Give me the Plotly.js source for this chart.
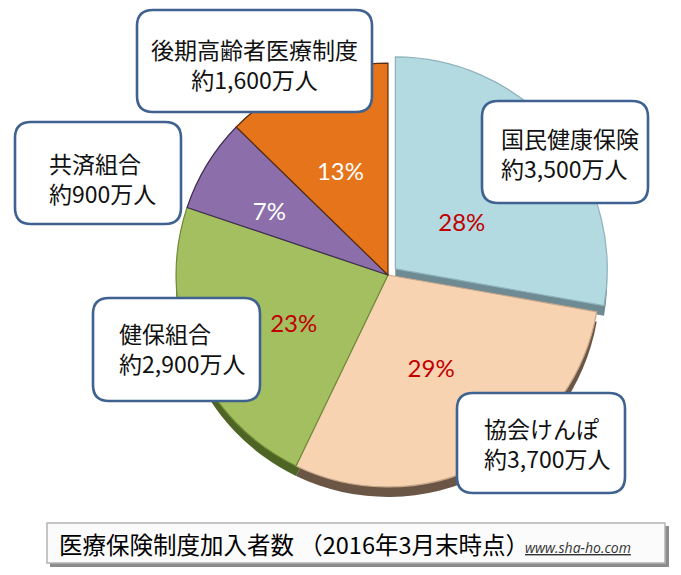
<!DOCTYPE html>
<html>
<head>
<meta charset="utf-8">
<script src="https://cdn.plot.ly/plotly-3.0.1.min.js"></script>
<style>html,body{margin:0;padding:0;background:#fff;}#chart{width:681px;height:575px;}</style>
</head>
<body>
<div id="chart"></div>
<script>
// ---- data ----
const categories = ['国民健康保険', '協会けんぽ', '健保組合', '共済組合', '後期高齢者医療制度'];
const members = [3500, 3700, 2900, 900, 1600];        // 万人
const memberLabels = ['約3,500万人', '約3,700万人', '約2,900万人', '約900万人', '約1,600万人'];
const chartTitle = '医療保険制度加入者数 （2016年3月末時点）';
const sourceText = 'www.sha-ho.com';

// ---- styles ----
const faceColors = ['#B3D9E1', '#F8D3B2', '#A3BF60', '#8C6FAA', '#E6741A'];
const sideColors = ['#6E8A92', '#6B5646', '#4E6424', '#4A3960', '#7A3D0C'];
const edgeColors = ['#8FB3BB', '#C9A98C', '#6E8A38', '#3E2C52', '#5A2E0C'];
const pctColors = ['#C00000', '#C00000', '#C00000', '#FFFFFF', '#FFFFFF'];
const clear = ['rgba(0,0,0,0)', 'rgba(0,0,0,0)', 'rgba(0,0,0,0)', 'rgba(0,0,0,0)', 'rgba(0,0,0,0)'];
const pulls = [0.045, 0, 0, 0, 0];

const W = 681, H = 575;
const CJK = '"Noto Sans CJK JP", "Noto Sans", sans-serif';

// pie geometry (pixels)
const cx = 388, cy = 275, depth = 10;
function dom(centerY, half) {
  return {
    x: [(cx - half) / W, (cx + half) / W],
    y: [(H - centerY - half) / H, (H - centerY + half) / H]
  };
}

const common = {type: 'pie', values: members, labels: categories, sort: false,
  direction: 'clockwise', rotation: 0, showlegend: false};

const shadowPie = Object.assign({}, common, {
  pull: pulls, domain: dom(cy + depth, 221.5),
  marker: {colors: sideColors, line: {width: 0}},
  textinfo: 'none', hoverinfo: 'skip'
});
const mainPie = Object.assign({}, common, {
  pull: pulls, domain: dom(cy, 221.5),
  marker: {colors: faceColors, line: {color: edgeColors, width: 1.2}},
  textinfo: 'none', hoverinfo: 'label+value+percent'
});
// transparent inner pie that carries the percentage labels
const labelPie = Object.assign({}, common, {
  domain: dom(cy + 8, 170),
  marker: {colors: clear, line: {width: 0}},
  texttemplate: '%{percent:.0%}', textposition: 'inside',
  insidetextorientation: 'horizontal',
  textfont: {family: 'Lato, "Noto Sans", sans-serif', size: 24, color: pctColors},
  hoverinfo: 'skip'
});

// ---- label boxes (pixel layout) ----
const boxes = [
  {x0: 482, y0: 101, x1: 648, y1: 203, tx: 499, ty: 153, anchor: 'left'},
  {x0: 457, y0: 393, x1: 625, y1: 493, tx: 482, ty: 443, anchor: 'left'},
  {x0: 93,  y0: 298, x1: 260, y1: 401, tx: 117, ty: 348, anchor: 'left'},
  {x0: 15,  y0: 122, x1: 181, y1: 224, tx: 47,  ty: 178, anchor: 'left'},
  {x0: 137, y0: 10,  x1: 372, y1: 112, tx: 254.5, ty: 64, anchor: 'center'}
];
const px = v => +(v / W).toFixed(5);
const py = v => +(1 - v / H).toFixed(5);
function rrect(x0, y0, x1, y1, r) {
  return `M${px(x0 + r)},${py(y0)} L${px(x1 - r)},${py(y0)} Q${px(x1)},${py(y0)} ${px(x1)},${py(y0 + r)} ` +
         `L${px(x1)},${py(y1 - r)} Q${px(x1)},${py(y1)} ${px(x1 - r)},${py(y1)} ` +
         `L${px(x0 + r)},${py(y1)} Q${px(x0)},${py(y1)} ${px(x0)},${py(y1 - r)} ` +
         `L${px(x0)},${py(y0 + r)} Q${px(x0)},${py(y0)} ${px(x0 + r)},${py(y0)} Z`;
}

const shapes = [];
const annotations = [];
boxes.forEach((b, i) => {
  shapes.push({type: 'path', xref: 'paper', yref: 'paper', path: rrect(b.x0, b.y0, b.x1, b.y1, 16),
    fillcolor: '#FFFFFF', line: {color: '#3F6290', width: 2.6}, layer: 'above'});
  annotations.push({xref: 'paper', yref: 'paper', x: px(b.tx), y: py(b.ty),
    xanchor: b.anchor, yanchor: 'middle', align: b.anchor, showarrow: false,
    text: categories[i] + '<br>' + memberLabels[i],
    font: {family: CJK, size: 23, color: '#111111'}});
});

// title box
shapes.push({type: 'rect', xref: 'paper', yref: 'paper', x0: px(50), x1: px(669), y0: py(567), y1: py(526),
  fillcolor: '#8C8C8C', line: {width: 0}, layer: 'above'});
shapes.push({type: 'rect', xref: 'paper', yref: 'paper', x0: px(47), x1: px(665), y0: py(563), y1: py(523),
  fillcolor: '#FBFBFB', line: {color: '#B4B4B4', width: 1.5}, layer: 'above'});
annotations.push({xref: 'paper', yref: 'paper', x: px(57), y: py(544), xanchor: 'left', yanchor: 'middle',
  showarrow: false, text: chartTitle, font: {family: CJK, size: 23.5, color: '#000000'}});
annotations.push({xref: 'paper', yref: 'paper', x: px(523), y: py(548), xanchor: 'left', yanchor: 'middle',
  showarrow: false, text: '<i><span style="text-decoration:underline">' + sourceText + '</span></i>',
  font: {family: '"Open Sans", "Liberation Sans", sans-serif', size: 14, color: '#333333'}});

const layout = {
  width: W, height: H,
  margin: {l: 0, r: 0, t: 0, b: 0},
  paper_bgcolor: '#FFFFFF',
  showlegend: false,
  shapes: shapes,
  annotations: annotations
};

Plotly.newPlot('chart', [shadowPie, mainPie, labelPie], layout, {displayModeBar: false, staticPlot: true});
</script>
</body>
</html>
